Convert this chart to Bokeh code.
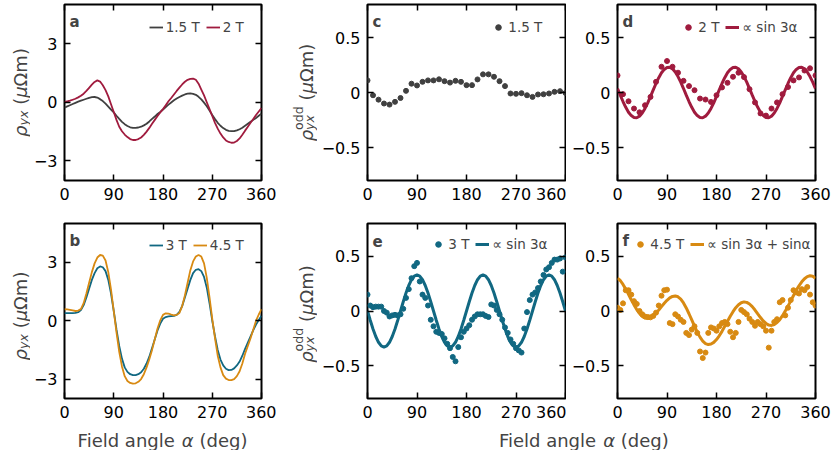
import math
from bokeh.plotting import figure
from bokeh.models import Range1d, FixedTicker, LinearAxis, Label, Legend, LegendItem
from bokeh.layouts import column, row
from bokeh.embed import file_html
from bokeh.resources import INLINE

FONT = "DejaVu Sans"
GRAY = "#404040"
CRIMSON = "#A01B3E"
TEAL = "#116882"
ORANGE = "#D88A12"

# ---------------- data ----------------
x_ticks = [0, 90, 180, 270, 360]
rho_ticks = [-3, 0, 3]
rho_tick_labels = {"-3": "\u22123", "0": "0", "3": "3"}
odd_ticks = [-0.5, 0, 0.5]
odd_tick_labels = {"-0.5": "\u22120.5", "0": "0.0", "0.5": "0.5"}

alpha10 = list(range(0, 361, 10))
alpha5 = list(range(0, 361, 5))

# panel a (rho_yx, 5 deg steps)
rho_15T = [-0.27, -0.21, -0.15, -0.09, -0.03, 0.03, 0.08, 0.13, 0.18, 0.23, 0.26, 0.27, 0.24,
           0.16, 0.06, -0.07, -0.22, -0.37, -0.52, -0.69, -0.85, -1.00, -1.12, -1.21, -1.28,
           -1.31, -1.31, -1.29, -1.25, -1.18, -1.10, -0.98, -0.85, -0.73, -0.60, -0.49, -0.37,
           -0.24, -0.12, -0.01, 0.10, 0.19, 0.27, 0.34, 0.40, 0.44, 0.45, 0.43, 0.38,
           0.28, 0.15, -0.02, -0.20, -0.42, -0.65, -0.86, -1.05, -1.20, -1.32, -1.41, -1.46,
           -1.48, -1.48, -1.44, -1.38, -1.30, -1.20, -1.10, -1.00, -0.90, -0.80, -0.69, -0.58]
rho_2T = [0.02, 0.05, 0.08, 0.13, 0.18, 0.25, 0.33, 0.44, 0.58, 0.74, 0.90, 1.04, 1.12,
          1.06, 0.87, 0.62, 0.30, -0.10, -0.50, -0.90, -1.25, -1.48, -1.65, -1.78, -1.88,
          -1.93, -1.93, -1.88, -1.80, -1.67, -1.50, -1.31, -1.10, -0.90, -0.70, -0.52, -0.35,
          -0.15, 0.05, 0.22, 0.40, 0.58, 0.75, 0.91, 1.05, 1.15, 1.20, 1.21, 1.15,
          0.95, 0.65, 0.35, 0.00, -0.35, -0.70, -1.05, -1.35, -1.60, -1.80, -1.95, -2.03,
          -2.07, -2.06, -1.98, -1.85, -1.66, -1.45, -1.25, -1.05, -0.85, -0.65, -0.47, -0.29]
# panel b
rho_3T = [0.39, 0.39, 0.39, 0.39, 0.40, 0.44, 0.55, 0.80, 1.20, 1.65, 2.10, 2.45, 2.70,
          2.79, 2.75, 2.55, 2.10, 1.40, 0.50, -0.45, -1.30, -1.95, -2.40, -2.63, -2.75,
          -2.80, -2.80, -2.75, -2.65, -2.47, -2.20, -1.85, -1.40, -0.95, -0.50, -0.15, 0.10,
          0.19, 0.22, 0.24, 0.25, 0.30, 0.45, 0.75, 1.20, 1.65, 2.10, 2.45, 2.62,
          2.65, 2.55, 2.25, 1.70, 0.90, 0.00, -0.80, -1.50, -2.00, -2.30, -2.47, -2.54,
          -2.53, -2.45, -2.30, -2.10, -1.80, -1.45, -1.12, -0.80, -0.48, -0.20, 0.04, 0.25]
rho_45T = [0.59, 0.58, 0.56, 0.53, 0.50, 0.52, 0.60, 0.90, 1.40, 1.95, 2.50, 2.95, 3.25,
           3.38, 3.35, 3.10, 2.50, 1.60, 0.50, -0.60, -1.60, -2.35, -2.85, -3.10, -3.20,
           -3.24, -3.22, -3.14, -3.00, -2.75, -2.40, -1.98, -1.50, -0.95, -0.40, 0.02, 0.30,
           0.38, 0.37, 0.32, 0.28, 0.30, 0.40, 0.75, 1.30, 1.95, 2.60, 3.05, 3.30,
           3.38, 3.30, 2.95, 2.20, 1.20, 0.10, -0.90, -1.80, -2.40, -2.80, -2.98, -3.05,
           -3.05, -3.00, -2.85, -2.60, -2.20, -1.70, -1.30, -0.90, -0.45, 0.00, 0.32, 0.59]
# panel c (odd part, 1.5 T)
odd_15T = [0.110, -0.025, -0.065, -0.100, -0.110, -0.085, -0.050, 0.015, 0.080, 0.064,
           0.097, 0.110, 0.110, 0.120, 0.103, 0.090, 0.106, 0.097, 0.067, 0.067,
           0.119, 0.165, 0.165, 0.143, 0.103, 0.058, -0.009, -0.012, -0.006, -0.025,
           -0.040, -0.018, -0.016, -0.009, 0.006, 0.012, -0.004]
# panel d (odd part, 2 T) and fit
odd_2T = [0.155, -0.015, -0.080, -0.146, -0.180, -0.116, -0.040, 0.097, 0.234, 0.286,
          0.234, 0.180, 0.106, 0.058, 0.021, -0.055, -0.064, -0.086, -0.025, 0.046,
          0.088, 0.143, 0.180, 0.140, 0.030, -0.090, -0.190, -0.210, -0.146, -0.090,
          -0.015, 0.050, 0.110, 0.137, 0.200, 0.220, 0.155]
fit_2T = [0.036, -0.024, -0.082, -0.135, -0.179, -0.210, -0.227, -0.229, -0.215, -0.186, -0.145, -0.094, -0.036,
          0.024, 0.082, 0.135, 0.179, 0.210, 0.227, 0.229, 0.215, 0.186, 0.145, 0.094,
          0.036, -0.024, -0.082, -0.135, -0.179, -0.210, -0.227, -0.229, -0.215, -0.186, -0.145, -0.094,
          -0.036, 0.024, 0.082, 0.135, 0.179, 0.210, 0.227, 0.229, 0.215, 0.186, 0.145, 0.094,
          0.036, -0.024, -0.082, -0.135, -0.179, -0.210, -0.227, -0.229, -0.215, -0.186, -0.145, -0.094,
          -0.036, 0.024, 0.082, 0.135, 0.179, 0.210, 0.227, 0.229, 0.215, 0.186, 0.145, 0.094,
          0.036]
# panel e (odd part, 3 T) and fit
odd_3T = [0.15, 0.05, 0.035, 0.04, 0.04, 0.04, 0.00, -0.015, -0.05, -0.04, -0.035, -0.04, -0.03,
          0.02, 0.12, 0.20, 0.30, 0.41, 0.44, 0.27, 0.15, 0.12, 0.05, -0.08, -0.14,
          -0.19, -0.20, -0.21, -0.25, -0.30, -0.34, -0.42, -0.46, -0.33, -0.24, -0.19, -0.16,
          -0.13, -0.08, -0.05, -0.03, -0.03, -0.03, -0.045, -0.055, 0.06, 0.05, 0.01, -0.03,
          -0.08, -0.15, -0.20, -0.26, -0.30, -0.34, -0.36, -0.38, -0.16, -0.01, 0.10, 0.15,
          0.17, 0.21, 0.27, 0.33, 0.38, 0.40, 0.44, 0.47, 0.47, 0.48, 0.36, 0.49]
fit_3T = [0.0, -0.085, -0.165, -0.233, -0.286, -0.319, -0.330, -0.319, -0.286, -0.233, -0.165, -0.085, 0.0,
          0.085, 0.165, 0.233, 0.286, 0.319, 0.330, 0.319, 0.286, 0.233, 0.165, 0.085,
          0.0, -0.085, -0.165, -0.233, -0.286, -0.319, -0.330, -0.319, -0.286, -0.233, -0.165, -0.085,
          0.0, 0.085, 0.165, 0.233, 0.286, 0.319, 0.330, 0.319, 0.286, 0.233, 0.165, 0.085,
          0.0, -0.085, -0.165, -0.233, -0.286, -0.319, -0.330, -0.319, -0.286, -0.233, -0.165, -0.085,
          0.0, 0.085, 0.165, 0.233, 0.286, 0.319, 0.330, 0.319, 0.286, 0.233, 0.165, 0.085,
          0.0]
# panel f (odd part, 4.5 T) and fit
odd_45T = [0.03, 0.01, 0.07, 0.19, 0.19, 0.15, 0.09, 0.065, 0.00, -0.03, -0.05, -0.055, -0.058,
           -0.045, -0.015, 0.05, 0.14, 0.19, 0.195, -0.11, -0.12, -0.03, -0.05, -0.08, -0.10,
           -0.20, -0.22, -0.17, -0.14, -0.20, -0.37, -0.43, -0.38, -0.20, -0.15, -0.16, -0.18,
           -0.14, -0.11, -0.10, -0.12, -0.19, -0.24, -0.20, -0.10, 0.01, -0.01, -0.03, -0.07,
           -0.10, -0.135, -0.10, -0.12, -0.14, -0.18, -0.335, -0.18, -0.10, -0.075, 0.08, 0.10,
           -0.04, 0.03, 0.10, 0.19, 0.17, 0.16, 0.20, 0.19, 0.22, 0.15, 0.08, 0.05]
fit_45T = [0.300, 0.279, 0.243, 0.200, 0.153, 0.103, 0.056, 0.013, -0.023, -0.049, -0.064, -0.067, -0.059,
           -0.043, -0.019, 0.009, 0.040, 0.071, 0.098, 0.120, 0.133, 0.138, 0.130, 0.109, 0.074,
           0.028, -0.025, -0.082, -0.139, -0.193, -0.239, -0.275, -0.298, -0.307, -0.302, -0.287, -0.261,
           -0.227, -0.186, -0.140, -0.094, -0.048, -0.006, 0.030, 0.058, 0.076, 0.083, 0.079, 0.064,
           0.040, 0.009, -0.026, -0.060, -0.091, -0.114, -0.129, -0.132, -0.124, -0.106, -0.079, -0.043,
           -0.001, 0.045, 0.093, 0.142, 0.189, 0.231, 0.267, 0.295, 0.314, 0.322, 0.318, 0.300]

# ---------------- helpers ----------------
def make_panel(yr, yticks, ylabels, fw, fh, ml, mr, mt, mb):
    p = figure(frame_width=fw, frame_height=fh, x_range=Range1d(0, 360), y_range=Range1d(*yr),
               output_backend="svg", toolbar_location=None, tools="",
               min_border_left=ml, min_border_right=mr, min_border_top=mt, min_border_bottom=mb)
    p.grid.visible = False
    p.outline_line_color = "black"
    p.outline_line_width = 2
    p.background_fill_color = "white"
    p.border_fill_color = "white"
    xt = FixedTicker(ticks=x_ticks)
    yt = FixedTicker(ticks=yticks)
    bottom = p.xaxis[0]
    left = p.yaxis[0]
    bottom.ticker = xt
    left.ticker = yt
    left.major_label_overrides = ylabels
    top = LinearAxis(ticker=xt)
    right = LinearAxis(ticker=yt)
    p.add_layout(top, "above")
    p.add_layout(right, "right")
    for ax in (bottom, left, top, right):
        ax.axis_line_color = None
        ax.major_tick_in = 6
        ax.major_tick_out = 0
        ax.minor_tick_in = 0
        ax.minor_tick_out = 0
        ax.major_tick_line_width = 1.5
        ax.major_tick_line_color = "black"
        ax.major_label_text_font = FONT
        ax.major_label_text_font_size = "16px"
        ax.major_label_text_color = "black"
    bottom.major_label_standoff = 7
    left.major_label_standoff = 7
    for ax in (top, right):
        ax.major_label_text_color = None
        ax.major_label_standoff = 0
    return p


def text_fig(w, h):
    t = figure(width=w, height=h, x_range=Range1d(0, w), y_range=Range1d(0, h), title=None,
               min_border=0, toolbar_location=None, tools="", output_backend="svg",
               x_axis_type=None, y_axis_type=None)
    t.outline_line_color = None
    t.grid.visible = False
    return t


def letter(p, t, fh):
    p.add_layout(Label(x=5, y=fh - 17, x_units="screen", y_units="screen", text=t,
                       text_font=FONT, text_font_size="15px", text_font_style="bold",
                       text_baseline="alphabetic"))


def vlabel(p, pieces, x0, yc):
    # yc: centre of the label, measured upward from the (row-aligned) frame bottom
    total = sum(pc[4] for pc in pieces)
    y = yc - total / 2
    for text, size, style, perp, adv in pieces:
        p.add_layout(Label(x=x0 + perp, y=y, x_units="screen", y_units="screen", text=text,
                           angle=math.pi / 2, text_font=FONT, text_font_size=f"{size}px",
                           text_font_style=style, text_align="left", text_baseline="alphabetic"))
        y += adv


F = 18
S = 12.6
unit_tail = [("(", F, "normal", 0, 0.39 * F), ("\u03bc", F, "italic", 0, 0.636 * F),
             ("\u03a9m)", F, "normal", 0, 2.128 * F)]
rho_pieces = [("\u03c1", F, "italic", 0, 0.635 * F), ("yx", S, "italic", 3, 1.184 * S + 0.318 * F)] + unit_tail
odd_pieces = [("\u03c1", F, "italic", 0, 0.635 * F), ("odd", S, "normal", -8, 0),
              ("yx", S, "italic", 3, 1.882 * S + 0.318 * F)] + unit_tail


def legend(p, items, x, y, fs="13.5px"):
    leg = Legend(items=items, orientation="horizontal", location=(x, y), padding=0, margin=0,
                 spacing=6, glyph_width=14, label_standoff=3, label_text_font=FONT,
                 label_text_font_size=fs, border_line_color=None, background_fill_alpha=0)
    p.add_layout(leg)


FH1, FH2 = 176, 175
H1 = 4 + FH1 + 41
H2 = 2 + FH2 + 25

pa = make_panel((-4, 5), rho_ticks, rho_tick_labels, 197, FH1, 33, 15, 4, 41)
r1 = pa.line(alpha5, rho_15T, color=GRAY, line_width=1.8)
r2 = pa.line(alpha5, rho_2T, color=CRIMSON, line_width=1.8)
legend(pa, [LegendItem(label="1.5 T", renderers=[r1]), LegendItem(label="2 T", renderers=[r2])], 84.7, FH1 - 32.7)
letter(pa, "a", FH1)

pc = make_panel((-0.8, 0.8), odd_ticks, odd_tick_labels, 198, FH1, 50, 1, 4, 41)
s1 = pc.scatter(alpha10, odd_15T, size=5, color=GRAY)
legend(pc, [LegendItem(label="1.5 T", renderers=[s1])], 124.3, FH1 - 32.7)
letter(pc, "c", FH1)

pd_ = make_panel((-0.8, 0.8), odd_ticks, odd_tick_labels, 198, FH1, 51, 17, 4, 41)
s2 = pd_.scatter(alpha10, odd_2T, size=5, color=CRIMSON)
l2 = pd_.line(alpha5, fit_2T, color=CRIMSON, line_width=3)
legend(pd_, [LegendItem(label="2 T", renderers=[s2]), LegendItem(label="\u221d sin 3\u03b1", renderers=[l2])],
       64.3, FH1 - 32.7)
letter(pd_, "d", FH1)

pb = make_panel((-4, 5), rho_ticks, rho_tick_labels, 197, FH2, 33, 15, 2, 25)
r3 = pb.line(alpha5, rho_3T, color=TEAL, line_width=1.8)
r4 = pb.line(alpha5, rho_45T, color=ORANGE, line_width=1.8)
legend(pb, [LegendItem(label="3 T", renderers=[r3]), LegendItem(label="4.5 T", renderers=[r4])], 84.7, FH2 - 32)
letter(pb, "b", FH2)

pe = make_panel((-0.8, 0.8), odd_ticks, odd_tick_labels, 198, FH2, 50, 1, 2, 25)
s3 = pe.scatter(alpha5, odd_3T, size=5, color=TEAL)
l3 = pe.line(alpha5, fit_3T, color=TEAL, line_width=3)
legend(pe, [LegendItem(label="3 T", renderers=[s3]), LegendItem(label="\u221d sin 3\u03b1", renderers=[l3])],
       64.3, FH2 - 31)
letter(pe, "e", FH2)

pf = make_panel((-0.8, 0.8), odd_ticks, odd_tick_labels, 198, FH2, 51, 17, 2, 25)
s4 = pf.scatter(alpha5, odd_45T, size=5, color=ORANGE)
l4 = pf.line(alpha5, fit_45T, color=ORANGE, line_width=3)
legend(pf, [LegendItem(label="4.5 T", renderers=[s4]),
            LegendItem(label="\u221d sin 3\u03b1 + sin\u03b1", renderers=[l4])], 16.3, FH2 - 31)
letter(pf, "f", FH2)

# y-axis titles (their frames are aligned with the panel frames of the same row)
ya = text_fig(30, H1)
vlabel(ya, rho_pieces, 19.5, FH1 / 2)
yc = text_fig(41, H1)
vlabel(yc, odd_pieces, 30, FH1 / 2)
yb = text_fig(30, H2)
vlabel(yb, rho_pieces, 19.5, FH2 / 2 - 5)
ye = text_fig(41, H2)
vlabel(ye, odd_pieces, 30, FH2 / 2 - 3)

strip = text_fig(831, 27)


def hlabel(p, cx, y):
    total = 9.434 * F
    x0 = cx - total / 2
    for text, style, off in (("Field angle", "normal", 0), ("\u03b1", "italic", 5.792 * F),
                             ("(deg)", "normal", 6.769 * F)):
        p.add_layout(Label(x=x0 + off, y=y, x_units="screen", y_units="screen", text=text,
                           text_font=FONT, text_font_size=f"{F}px", text_font_style=style,
                           text_baseline="alphabetic"))


hlabel(strip, 162, 10)
hlabel(strip, 583.3, 10)

layout = column(row(ya, pa, yc, pc, pd_), row(yb, pb, ye, pe, pf), strip)

with open("out.html", "w") as fh:
    fh.write(file_html(layout, INLINE))
